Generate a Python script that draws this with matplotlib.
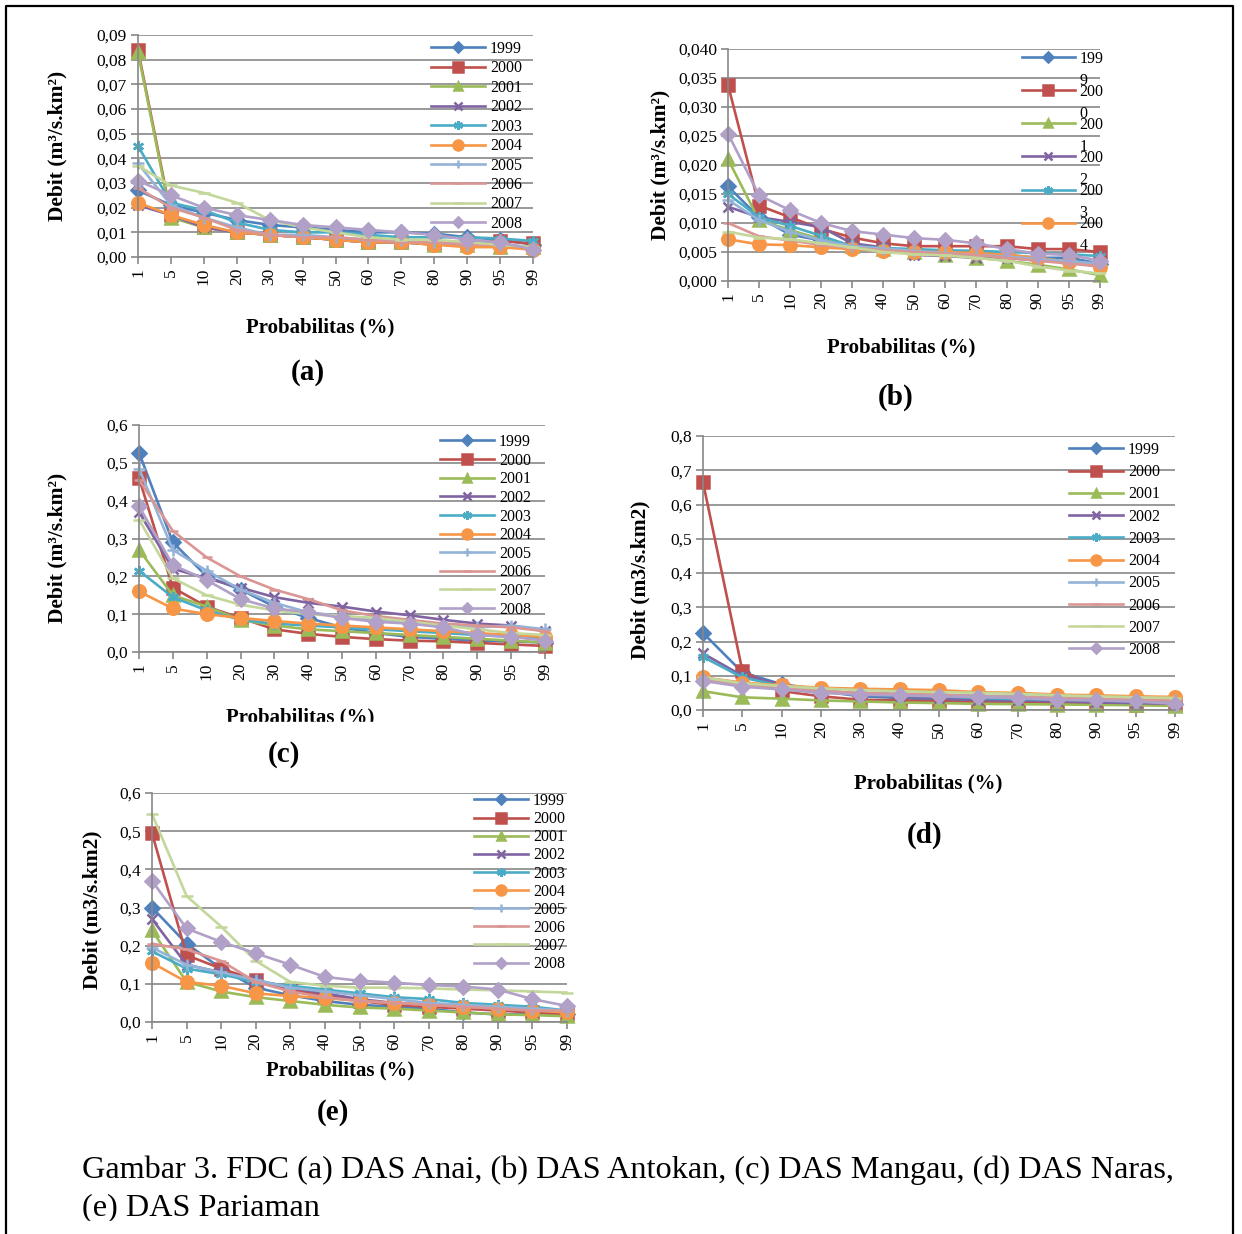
import numpy as np
import matplotlib
matplotlib.use('Agg')
import matplotlib.pyplot as plt
from matplotlib.patches import Rectangle
from matplotlib.lines import Line2D
from matplotlib.transforms import IdentityTransform

plt.rcParams['font.family'] = ['Liberation Serif', 'DejaVu Serif']

W, H = 1242, 1234

#x categories (probability of exceedance, %)
prob = ['1', '5', '10', '20', '30', '40', '50', '60', '70', '80', '90', '95', '99']
years = ['1999', '2000', '2001', '2002', '2003', '2004', '2005', '2006', '2007', '2008']

#(a) DAS Anai, one row per year
anai = np.array([
    [0.027, 0.021, 0.018, 0.015, 0.013, 0.012, 0.011, 0.010, 0.010, 0.0095, 0.008, 0.007, 0.005],
    [0.084, 0.017, 0.012, 0.010, 0.009, 0.008, 0.007, 0.006, 0.006, 0.0055, 0.006, 0.0065, 0.0055],
    [0.083, 0.016, 0.012, 0.010, 0.009, 0.008, 0.007, 0.006, 0.006, 0.005, 0.005, 0.004, 0.004],
    [0.021, 0.017, 0.012, 0.010, 0.009, 0.008, 0.007, 0.006, 0.006, 0.005, 0.005, 0.004, 0.004],
    [0.045, 0.022, 0.019, 0.014, 0.011, 0.010, 0.010, 0.009, 0.008, 0.008, 0.008, 0.0075, 0.0065],
    [0.022, 0.017, 0.013, 0.010, 0.009, 0.008, 0.007, 0.006, 0.006, 0.005, 0.004, 0.004, 0.003],
    [0.038, 0.021, 0.016, 0.012, 0.009, 0.009, 0.008, 0.007, 0.007, 0.006, 0.005, 0.005, 0.004],
    [0.028, 0.020, 0.016, 0.011, 0.009, 0.008, 0.008, 0.007, 0.006, 0.006, 0.005, 0.005, 0.004],
    [0.037, 0.029, 0.026, 0.022, 0.015, 0.012, 0.010, 0.008, 0.007, 0.007, 0.006, 0.005, 0.004],
    [0.031, 0.025, 0.020, 0.017, 0.015, 0.013, 0.012, 0.011, 0.010, 0.009, 0.007, 0.006, 0.003]])

#(b) DAS Antokan
antokan = np.array([
    [0.0163, 0.011, 0.008, 0.007, 0.006, 0.0055, 0.005, 0.005, 0.0045, 0.0045, 0.004, 0.004, 0.003],
    [0.0338, 0.013, 0.011, 0.009, 0.0075, 0.0065, 0.006, 0.006, 0.006, 0.006, 0.0055, 0.0055, 0.005],
    [0.021, 0.0105, 0.0088, 0.0072, 0.006, 0.0055, 0.005, 0.0045, 0.004, 0.0035, 0.0028, 0.002, 0.001],
    [0.0128, 0.011, 0.0102, 0.0093, 0.0065, 0.0058, 0.0045, 0.0043, 0.004, 0.004, 0.0035, 0.0033, 0.0025],
    [0.015, 0.011, 0.0095, 0.0078, 0.006, 0.0057, 0.0055, 0.0053, 0.0052, 0.005, 0.0048, 0.0046, 0.0043],
    [0.0072, 0.0063, 0.0062, 0.0058, 0.0055, 0.0052, 0.005, 0.005, 0.0048, 0.0045, 0.004, 0.0033, 0.0025],
    [0.014, 0.0105, 0.0085, 0.007, 0.006, 0.0056, 0.0052, 0.0048, 0.0045, 0.0042, 0.0038, 0.0034, 0.003],
    [0.010, 0.0077, 0.007, 0.0062, 0.0057, 0.0053, 0.005, 0.0047, 0.0045, 0.004, 0.0035, 0.003, 0.0025],
    [0.0085, 0.0075, 0.0072, 0.0065, 0.0058, 0.005, 0.0046, 0.0044, 0.004, 0.0035, 0.0025, 0.0018, 0.0013],
    [0.0254, 0.0148, 0.0122, 0.010, 0.0086, 0.008, 0.0074, 0.0071, 0.0065, 0.0055, 0.0047, 0.0045, 0.0035]])

#(c) DAS Mangau
mangau = np.array([
    [0.527, 0.29, 0.20, 0.165, 0.12, 0.09, 0.065, 0.05, 0.04, 0.035, 0.03, 0.028, 0.025],
    [0.46, 0.17, 0.12, 0.09, 0.06, 0.048, 0.04, 0.034, 0.03, 0.028, 0.024, 0.02, 0.016],
    [0.27, 0.15, 0.12, 0.085, 0.07, 0.06, 0.055, 0.05, 0.045, 0.04, 0.035, 0.03, 0.025],
    [0.37, 0.22, 0.195, 0.17, 0.145, 0.13, 0.12, 0.107, 0.097, 0.085, 0.075, 0.07, 0.055],
    [0.215, 0.145, 0.11, 0.085, 0.075, 0.07, 0.065, 0.06, 0.055, 0.05, 0.045, 0.04, 0.035],
    [0.16, 0.115, 0.10, 0.09, 0.082, 0.075, 0.07, 0.065, 0.06, 0.055, 0.05, 0.045, 0.04],
    [0.485, 0.27, 0.215, 0.165, 0.13, 0.105, 0.095, 0.085, 0.08, 0.07, 0.065, 0.07, 0.06],
    [0.455, 0.32, 0.25, 0.20, 0.165, 0.14, 0.11, 0.095, 0.085, 0.075, 0.07, 0.065, 0.055],
    [0.35, 0.195, 0.15, 0.125, 0.11, 0.10, 0.095, 0.09, 0.08, 0.07, 0.06, 0.05, 0.045],
    [0.385, 0.23, 0.19, 0.14, 0.115, 0.105, 0.09, 0.08, 0.075, 0.065, 0.045, 0.04, 0.03]])

#(d) DAS Naras
naras = np.array([
    [0.225, 0.11, 0.075, 0.055, 0.04, 0.035, 0.03, 0.025, 0.025, 0.02, 0.02, 0.02, 0.018],
    [0.665, 0.115, 0.055, 0.04, 0.03, 0.028, 0.025, 0.022, 0.02, 0.02, 0.018, 0.016, 0.014],
    [0.055, 0.037, 0.033, 0.028, 0.025, 0.022, 0.02, 0.018, 0.017, 0.016, 0.015, 0.014, 0.012],
    [0.165, 0.10, 0.075, 0.06, 0.045, 0.04, 0.035, 0.03, 0.028, 0.025, 0.022, 0.02, 0.018],
    [0.155, 0.095, 0.07, 0.055, 0.045, 0.042, 0.04, 0.035, 0.032, 0.03, 0.028, 0.025, 0.022],
    [0.095, 0.08, 0.072, 0.065, 0.062, 0.06, 0.058, 0.052, 0.05, 0.045, 0.043, 0.04, 0.038],
    [0.09, 0.075, 0.065, 0.055, 0.05, 0.048, 0.045, 0.042, 0.04, 0.037, 0.033, 0.03, 0.028],
    [0.09, 0.075, 0.065, 0.055, 0.05, 0.047, 0.045, 0.04, 0.038, 0.035, 0.032, 0.03, 0.028],
    [0.095, 0.078, 0.07, 0.063, 0.058, 0.055, 0.052, 0.05, 0.047, 0.043, 0.04, 0.037, 0.035],
    [0.085, 0.068, 0.06, 0.05, 0.045, 0.043, 0.04, 0.038, 0.035, 0.03, 0.028, 0.025, 0.018]])

#(e) DAS Pariaman
pariaman = np.array([
    [0.30, 0.205, 0.14, 0.09, 0.07, 0.055, 0.045, 0.04, 0.035, 0.025, 0.02, 0.02, 0.02],
    [0.495, 0.175, 0.14, 0.11, 0.085, 0.07, 0.055, 0.045, 0.04, 0.035, 0.03, 0.025, 0.02],
    [0.24, 0.105, 0.08, 0.065, 0.055, 0.045, 0.038, 0.035, 0.03, 0.025, 0.02, 0.018, 0.015],
    [0.27, 0.15, 0.13, 0.11, 0.09, 0.075, 0.06, 0.05, 0.045, 0.04, 0.035, 0.03, 0.025],
    [0.185, 0.14, 0.125, 0.105, 0.095, 0.085, 0.075, 0.065, 0.06, 0.05, 0.045, 0.04, 0.03],
    [0.155, 0.105, 0.095, 0.075, 0.068, 0.063, 0.055, 0.05, 0.045, 0.04, 0.035, 0.03, 0.025],
    [0.195, 0.15, 0.13, 0.11, 0.09, 0.08, 0.07, 0.06, 0.05, 0.045, 0.04, 0.035, 0.03],
    [0.205, 0.19, 0.16, 0.105, 0.08, 0.065, 0.055, 0.05, 0.045, 0.04, 0.035, 0.03, 0.03],
    [0.545, 0.33, 0.25, 0.16, 0.105, 0.095, 0.09, 0.09, 0.088, 0.085, 0.083, 0.08, 0.077],
    [0.37, 0.245, 0.21, 0.18, 0.15, 0.118, 0.108, 0.103, 0.097, 0.093, 0.085, 0.06, 0.042]])

#Excel 2007 style series look
colors = ['#4F81BD', '#C0504D', '#9BBB59', '#8064A2', '#4BACC6',
          '#F79646', '#95B3D7', '#DA9694', '#C4D79B', '#B1A0C7']
markers = ['D', 's', '^', 'x', (6, 2, 0), 'o', '+', '_', '_', 'D']
msizes = [7, 9, 8, 7, 8, 9, 8, 7, 9, 7]
GRID = '#878787'


def fx(px):
    return px / W


def fy(py):
    return 1 - py / H


def panel(box, data, ymax, ystep, fmt):
    """draws one FDC panel, box = (left, top, right, bottom) in pixels"""
    x0, y0, x1, y1 = box
    ax = fig.add_axes([fx(x0), fy(y1), (x1 - x0) / W, (y1 - y0) / H])
    pos = np.arange(len(prob))
    for i, yr in enumerate(years):
        ax.plot(pos, data[i], color=colors[i], marker=markers[i],
                ms=msizes[i], mew=1.8, lw=1.9, label=yr, clip_on=False)
    ax.set_xlim(0, len(prob) - 1)
    ax.set_ylim(0, ymax)
    yt = np.arange(0, ymax + ystep / 2, ystep)
    ax.set_yticks(yt)
    ax.set_yticklabels([fmt.format(v).replace('.', ',') for v in yt])
    ax.set_xticks(pos)
    ax.set_xticklabels(prob, rotation=90)
    ax.grid(axis='y', color=GRID, lw=1.2)
    ax.set_axisbelow(True)
    ax.spines['top'].set_visible(False)
    ax.spines['right'].set_visible(False)
    ax.spines['left'].set_color(GRID)
    ax.spines['bottom'].set_color(GRID)
    ax.spines['left'].set_linewidth(1.2)
    ax.spines['bottom'].set_linewidth(1.2)
    ax.tick_params(color=GRID, labelcolor='black', labelsize=12.5,
                   length=5, width=1.2, pad=3)
    return ax


def legend(ax, left, top, step, n=10, labels=None, fs=11.5, hl=3.4):
    hs, ls = ax.get_legend_handles_labels()
    if labels is None:
        labels = ls
    fs_px = fs * 100 / 72
    return ax.legend(hs[:n], labels[:n], loc='upper left',
                     bbox_to_anchor=(fx(left), fy(top)),
                     bbox_transform=fig.transFigure, frameon=False,
                     fontsize=fs, handlelength=hl, handletextpad=0.3,
                     labelspacing=(step - fs_px) / fs_px, markerscale=0.8,
                     borderpad=0, borderaxespad=0, numpoints=1)


def label(x, y, s, size, rot=0, bold=True, **kw):
    return fig.text(fx(x), fy(y), s, fontsize=size, rotation=rot,
                    fontweight='bold' if bold else 'normal',
                    ha='center', va='center', **kw)


fig = plt.figure(figsize=(W / 100, H / 100), dpi=100)

ax_a = panel((138, 35, 533, 257), anai, 0.09, 0.01, '{:.2f}')
ax_b = panel((728, 49, 1100, 281), antokan, 0.040, 0.005, '{:.3f}')
ax_c = panel((139, 425, 545, 652), mangau, 0.6, 0.1, '{:.1f}')
ax_d = panel((703, 436, 1175, 710), naras, 0.8, 0.1, '{:.1f}')
ax_e = panel((152, 793, 567, 1022), pariaman, 0.6, 0.1, '{:.1f}')

legend(ax_a, 431, 41, 19.4)
legend(ax_c, 440, 434, 18.6)
legend(ax_d, 1069, 442, 22.2)
legend(ax_e, 474, 793, 18.1)
#panel (b) legend has the year labels broken over two lines
leg_b = legend(ax_b, 1022, 51, 33, n=6,
               labels=['199', '200', '200', '200', '200', '200'], hl=3.3)

label(57, 146, 'Debit (m³/s.km²)', 15.5, rot=90)
label(660, 165, 'Debit (m³/s.km²)', 15.5, rot=90)
label(57, 548, 'Debit (m³/s.km²)', 15.5, rot=90)
label(640, 580, 'Debit (m3/s.km2)', 15.5, rot=90)
label(92, 910, 'Debit (m3/s.km2)', 15.5, rot=90)

label(320, 327, 'Probabilitas (%)', 15)
label(901, 347, 'Probabilitas (%)', 15)
label(300, 717, 'Probabilitas (%)', 15)
label(928, 783, 'Probabilitas (%)', 15)
label(340, 1070, 'Probabilitas (%)', 15)

label(308, 373, '(a)', 21)
label(896, 397, '(b)', 21)
label(284, 755, '(c)', 21)
label(925, 835, '(d)', 21)
label(333, 1113, '(e)', 21)

fig.text(fx(82), fy(1170), 'Gambar 3. FDC (a) DAS Anai, (b) DAS Antokan, '
         '(c) DAS Mangau, (d) DAS Naras,', fontsize=23.2, va='center')
fig.text(fx(82), fy(1208), '(e) DAS Pariaman', fontsize=23.2, va='center')

#second line of the wrapped legend labels in (b)
fig.canvas.draw()
for t, s in zip(leg_b.get_texts(), ['9', '0', '1', '2', '3', '4']):
    bb = t.get_window_extent()
    fig.text(bb.x0, bb.y0 - 18, s, fontsize=11.5, transform=IdentityTransform())

#white masks that cut off clipped text like in the source page
fig.add_artist(Rectangle((fx(200), fy(731)), fx(220), 9 / H, color='white',
                         transform=fig.transFigure, zorder=10))
fig.add_artist(Rectangle((fx(20), 0), fx(1200), 13 / H, color='white',
                         transform=fig.transFigure, zorder=10))

#page frame (no bottom edge visible)
fig.add_artist(Line2D([fx(6), fx(6), fx(1233), fx(1233)], [0, fy(6), fy(6), 0],
                      color='black', lw=1.6, transform=fig.transFigure, zorder=11))

fig.savefig('out.png', dpi=100)
